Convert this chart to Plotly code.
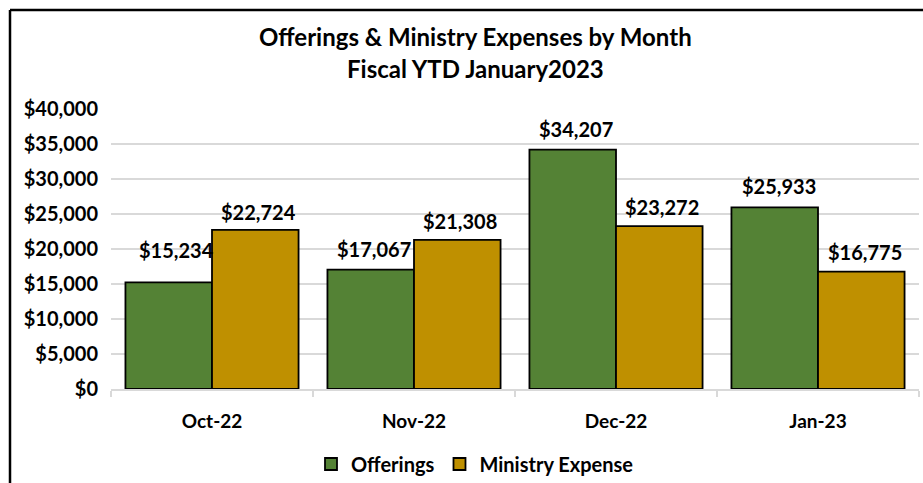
import plotly.graph_objects as go

months = ["Oct-22", "Nov-22", "Dec-22", "Jan-23"]
offerings = [15234, 17067, 34207, 25933]
ministry = [22724, 21308, 23272, 16775]
y_ticks = [0, 5000, 10000, 15000, 20000, 25000, 30000, 35000, 40000]
y_tick_text = ["$0", "$5,000", "$10,000", "$15,000", "$20,000", "$25,000", "$30,000", "$35,000", "$40,000"]

FONT = "Lato"
GREEN = "#548235"
GOLD = "#BF9000"

fig = go.Figure()
fig.add_trace(go.Bar(x=months, y=offerings, name="Offerings",
                     marker=dict(color=GREEN, line=dict(color="#000000", width=1.8))))
fig.add_trace(go.Bar(x=months, y=ministry, name="Ministry Expense",
                     marker=dict(color=GOLD, line=dict(color="#000000", width=1.8))))

# data labels
label_font = dict(family=FONT, size=20, color="#000000", weight="bold")
off_shift = [(7, 32), (3, 21), (3, 21), (4, 21)]
min_shift = [(3, 18), (3, 19), (3, 19), (4, 20)]
for i, m in enumerate(months):
    dx, dy = off_shift[i]
    fig.add_annotation(x=m, y=offerings[i], text="$" + f"{offerings[i]:,}", showarrow=False,
                       xshift=-43 + dx, yshift=dy, yanchor="middle", font=label_font)
    dx, dy = min_shift[i]
    fig.add_annotation(x=m, y=ministry[i], text="$" + f"{ministry[i]:,}", showarrow=False,
                       xshift=43 + dx, yshift=dy, yanchor="middle", font=label_font)

# title
title_font = dict(family=FONT, size=24, color="#000000", weight="bold")
fig.add_annotation(xref="paper", yref="paper", x=(475 - 111) / 808, y=(389 - 36) / 280,
                   text="Offerings & Ministry Expenses by Month", showarrow=False,
                   xanchor="center", yanchor="middle", font=title_font)
fig.add_annotation(xref="paper", yref="paper", x=(475 - 111) / 808, y=(389 - 68) / 280,
                   text="Fiscal YTD January2023", showarrow=False,
                   xanchor="center", yanchor="middle", font=title_font)

# chart border (left and top)
fig.add_shape(type="line", xref="paper", yref="paper",
              x0=(10 - 111) / 808, x1=(10 - 111) / 808, y0=(389 - 10) / 280, y1=-0.5,
              line=dict(color="#000000", width=2.5))
fig.add_shape(type="line", xref="paper", yref="paper",
              x0=(10 - 111) / 808, x1=1.1, y0=(389 - 10) / 280, y1=(389 - 10) / 280,
              line=dict(color="#000000", width=2.5))

fig.update_layout(
    width=923, height=483,
    margin=dict(l=111, r=4, t=109, b=94, autoexpand=False),
    paper_bgcolor="#ffffff", plot_bgcolor="#ffffff",
    barmode="group", bargap=0.143, bargroupgap=0,
    showlegend=True,
    legend=dict(orientation="h", x=(475 - 111) / 808, xanchor="center",
                y=(389 - 464) / 280, yanchor="middle",
                font=dict(family=FONT, size=20, color="#000000", weight="bold"),
                itemwidth=30, traceorder="normal"),
    xaxis=dict(showgrid=False, showline=True, linecolor="#d9d9d9", linewidth=2,
               ticks="outside", tickson="boundaries", ticklen=6, tickcolor="#d9d9d9", tickwidth=2,
               tickfont=dict(family=FONT, size=19, color="#000000", weight="bold"),
               ticklabelstandoff=14),
    yaxis=dict(range=[0, 40000], tickvals=y_ticks, ticktext=y_tick_text,
               showgrid=True, gridcolor="#d9d9d9", gridwidth=2, zeroline=False, showline=False,
               tickfont=dict(family=FONT, size=20, color="#000000", weight="bold"),
               ticklabelstandoff=12),
)

fig.write_html("out.html")
